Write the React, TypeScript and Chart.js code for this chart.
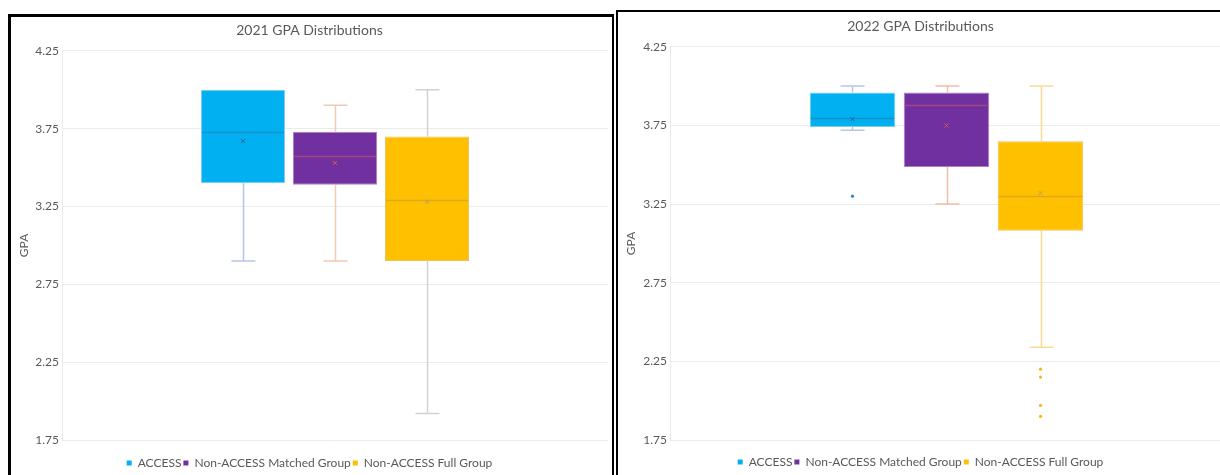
import React, { useEffect, useRef } from "react";
import { Chart, registerables } from "chart.js";

Chart.register(...registerables);

// ---------- data ----------
const groups = ["ACCESS", "Non-ACCESS Matched Group", "Non-ACCESS Full Group"];
const yTickValues = [1.75, 2.25, 2.75, 3.25, 3.75, 4.25];

// 2021
const title2021 = "2021 GPA Distributions";
const min2021 = [2.9, 2.9, 1.92];
const q1_2021 = [3.4, 3.39, 2.9];
const median2021 = [3.73, 3.575, 3.29];
const q3_2021 = [4.0, 3.73, 3.7];
const max2021 = [4.0, 3.9, 4.0];
const mean2021 = [3.67, 3.53, 3.28];
const outliers2021: number[][] = [[], [], []];

// 2022
const title2022 = "2022 GPA Distributions";
const min2022 = [3.72, 3.25, 2.34];
const q1_2022 = [3.74, 3.485, 3.08];
const median2022 = [3.8, 3.88, 3.3];
const q3_2022 = [3.96, 3.96, 3.65];
const max2022 = [4.0, 4.0, 4.0];
const mean2022 = [3.79, 3.75, 3.32];
const outliers2022: number[][] = [[3.3], [], [2.2, 2.15, 1.97, 1.9]];

// ---------- styles ----------
const fillColors = ["#00B0F0", "#7030A0", "#FFC000"];
const boxBorderColors = ["#7fcdef", "#b57fb6", "#e9c35a"];
const medianColors = ["#1892c6", "#a2467e", "#d9a91e"];
const meanColors = ["#2f5f9e", "#d0584a", "#b8a070"];
const whisker2021 = ["#b4c7e7", "#f4c9b2", "#d2d2d2"];
const whisker2022 = ["#b4c7e7", "#f3bca4", "#f6dc94"];
const outlierColors = ["#2e86d0", "#7030A0", "#f5b81f"];
const textColor = "#595959";
const FONT = "Lato, 'Open Sans', sans-serif";

type Stats = {
  min: number[];
  q1: number[];
  median: number[];
  q3: number[];
  max: number[];
  mean: number[];
  outliers: number[][];
  whisker: string[];
};

type Geo = {
  width: number;
  height: number;
  yAxisWidth: number;
  padRight: number;
  titlePadTop: number;
  titlePadBottom: number;
  yTitlePad: number;
  xAxisHeight: number;
  padBottom: number;
  catPct: number;
  barPct: number;
};

function BoxChart({ title, stats, geo }: { title: string; stats: Stats; geo: Geo }) {
  const ref = useRef<HTMLCanvasElement | null>(null);

  useEffect(() => {
    if (!ref.current) return;
    const capHalf = 12;

    const boxPlugin = {
      id: "boxExtras",
      beforeDatasetsDraw(chart: any) {
        const { ctx } = chart;
        const y = chart.scales.y;
        chart.data.datasets.forEach((_: any, i: number) => {
          const bar = chart.getDatasetMeta(i).data[0];
          if (!bar) return;
          const x = Math.round(bar.x) + 0.5;
          ctx.save();
          ctx.strokeStyle = stats.whisker[i];
          ctx.lineWidth = 1.5;
          const pMin = y.getPixelForValue(stats.min[i]);
          const pMax = y.getPixelForValue(stats.max[i]);
          const pQ1 = y.getPixelForValue(stats.q1[i]);
          const pQ3 = y.getPixelForValue(stats.q3[i]);
          ctx.beginPath();
          if (stats.min[i] < stats.q1[i]) {
            ctx.moveTo(x, pQ1);
            ctx.lineTo(x, pMin);
            ctx.moveTo(x - capHalf, pMin);
            ctx.lineTo(x + capHalf, pMin);
          }
          if (stats.max[i] > stats.q3[i]) {
            ctx.moveTo(x, pQ3);
            ctx.lineTo(x, pMax);
            ctx.moveTo(x - capHalf, pMax);
            ctx.lineTo(x + capHalf, pMax);
          }
          ctx.stroke();
          ctx.restore();
        });
      },
      afterDatasetsDraw(chart: any) {
        const { ctx } = chart;
        const y = chart.scales.y;
        chart.data.datasets.forEach((_: any, i: number) => {
          const bar = chart.getDatasetMeta(i).data[0];
          if (!bar) return;
          const x = bar.x;
          const half = bar.width / 2;
          ctx.save();
          // median
          const pMed = Math.round(y.getPixelForValue(stats.median[i])) + 0.5;
          ctx.strokeStyle = medianColors[i];
          ctx.lineWidth = 1.5;
          ctx.beginPath();
          ctx.moveTo(x - half + 1, pMed);
          ctx.lineTo(x + half - 1, pMed);
          ctx.stroke();
          // mean x
          const pMean = y.getPixelForValue(stats.mean[i]);
          ctx.strokeStyle = meanColors[i];
          ctx.lineWidth = 1;
          ctx.beginPath();
          ctx.moveTo(x - 2, pMean - 2);
          ctx.lineTo(x + 2, pMean + 2);
          ctx.moveTo(x + 2, pMean - 2);
          ctx.lineTo(x - 2, pMean + 2);
          ctx.stroke();
          // outliers
          ctx.fillStyle = outlierColors[i];
          stats.outliers[i].forEach((v) => {
            const p = y.getPixelForValue(v);
            ctx.beginPath();
            ctx.arc(x, p, 1.6, 0, Math.PI * 2);
            ctx.fill();
          });
          ctx.restore();
        });
      },
    };

    const chart = new Chart(ref.current, {
      type: "bar",
      data: {
        labels: [""],
        datasets: groups.map((g, i) => ({
          label: g,
          data: [[stats.q1[i], stats.q3[i]]] as any,
          backgroundColor: fillColors[i],
          borderColor: boxBorderColors[i],
          borderWidth: 1,
          borderSkipped: false,
          categoryPercentage: geo.catPct,
          barPercentage: geo.barPct,
        })),
      },
      options: {
        responsive: false,
        animation: false,
        devicePixelRatio: 1,
        layout: { padding: { top: 0, left: 0, right: geo.padRight, bottom: geo.padBottom } },
        font: { family: FONT },
        plugins: {
          tooltip: { enabled: false },
          title: {
            display: true,
            text: title,
            color: textColor,
            font: { family: FONT, size: 14, weight: "normal" as any, lineHeight: 1.2 },
            padding: { top: geo.titlePadTop, bottom: geo.titlePadBottom },
          },
          legend: {
            display: true,
            position: "bottom",
            labels: {
              boxWidth: 5,
              boxHeight: 5,
              padding: 2,
              color: textColor,
              font: { family: FONT, size: 12 },
              generateLabels: (c: any) =>
                c.data.datasets.map((ds: any, i: number) => ({
                  text: ds.label,
                  fillStyle: fillColors[i],
                  strokeStyle: fillColors[i],
                  lineWidth: 0,
                  hidden: false,
                  datasetIndex: i,
                  fontColor: textColor,
                })),
            },
          },
        },
        scales: {
          x: {
            display: true,
            grid: { display: false },
            border: { display: false },
            ticks: { display: false },
            afterFit: (s: any) => {
              s.height = geo.xAxisHeight;
            },
          },
          y: {
            min: yTickValues[0],
            max: yTickValues[yTickValues.length - 1],
            ticks: {
              stepSize: 0.5,
              color: textColor,
              font: { family: FONT, size: 12 },
              padding: 3,
              callback: (v: any) => Number(v).toFixed(2),
            },
            grid: { color: "#ebebeb", lineWidth: 1, drawTicks: false },
            border: { display: true, color: "#ebebeb" },
            title: {
              display: true,
              text: "GPA",
              color: textColor,
              font: { family: FONT, size: 12, lineHeight: 1.2 },
              padding: { top: geo.yTitlePad, bottom: 0 },
            },
            afterFit: (s: any) => {
              s.width = geo.yAxisWidth;
            },
          },
        },
      },
      plugins: [boxPlugin],
    });
    return () => chart.destroy();
  }, []);

  return <canvas ref={ref} width={geo.width} height={geo.height} style={{ display: "block" }} />;
}

const geoLeft: Geo = {
  width: 600,
  height: 480,
  yAxisWidth: 51,
  padRight: 3,
  titlePadTop: 5,
  titlePadBottom: 12,
  yTitlePad: 5.6,
  xAxisHeight: 15,
  padBottom: 18,
  catPct: 0.5055,
  barPct: 0.913,
};

const geoRight: Geo = {
  width: 612,
  height: 480,
  yAxisWidth: 52,
  padRight: 7,
  titlePadTop: 6,
  titlePadBottom: 12,
  yTitlePad: 6.2,
  xAxisHeight: 14,
  padBottom: 14,
  catPct: 0.51,
  barPct: 0.91,
};

export default function App() {
  return (
    <div
      style={{
        position: "fixed",
        left: 0,
        top: 0,
        width: 1220,
        height: 475,
        overflow: "hidden",
        background: "#fff",
      }}
    >
      <div
        style={{
          position: "absolute",
          left: 8,
          top: 14,
          width: 606,
          height: 500,
          boxSizing: "border-box",
          borderStyle: "solid",
          borderColor: "#000",
          borderWidth: "3px 2px 0 3px",
          background: "#fff",
          overflow: "hidden",
        }}
      >
        <BoxChart
          title={title2021}
          geo={geoLeft}
          stats={{
            min: min2021,
            q1: q1_2021,
            median: median2021,
            q3: q3_2021,
            max: max2021,
            mean: mean2021,
            outliers: outliers2021,
            whisker: whisker2021,
          }}
        />
      </div>
      <div
        style={{
          position: "absolute",
          left: 616,
          top: 10,
          width: 616,
          height: 500,
          boxSizing: "border-box",
          borderStyle: "solid",
          borderColor: "#000",
          borderWidth: "2px 2px 0 2px",
          background: "#fff",
          overflow: "hidden",
        }}
      >
        <BoxChart
          title={title2022}
          geo={geoRight}
          stats={{
            min: min2022,
            q1: q1_2022,
            median: median2022,
            q3: q3_2022,
            max: max2022,
            mean: mean2022,
            outliers: outliers2022,
            whisker: whisker2022,
          }}
        />
      </div>
    </div>
  );
}
